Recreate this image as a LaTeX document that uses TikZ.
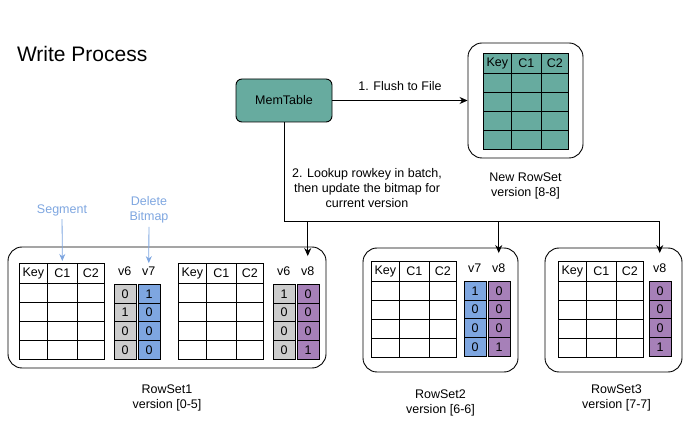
\documentclass[tikz,border=0pt]{standalone}
\usepackage{fontspec}
\setmainfont{Liberation Sans}
\usetikzlibrary{arrows.meta,positioning}

\definecolor{memgreen}{HTML}{67AB9F}
\definecolor{bitblue}{HTML}{7EA6E0}
\definecolor{bitpurple}{HTML}{A680B8}
\definecolor{bitgray}{HTML}{CCCCCC}
\definecolor{notecolor}{HTML}{7EA6E0}

\tikzset{
  cell/.style={draw, inner sep=0pt, line width=0.8pt},
  rowset/.style={draw, rounded corners=14pt, line width=0.9pt},
  setcap/.style={align=center},
  flow/.style={-{Stealth[length=8pt,width=7pt]}, line width=0.9pt},
  hint/.style={-{Stealth[length=7pt,width=6pt]}, draw=notecolor, line width=0.8pt},
}

% table with Key, C1, C2 and four rows: name, x, y, fill
\newcommand{\kvtable}[4]{%
  \foreach \colx/\colw/\coltxt [count=\i] in {0/28/Key, 28/30/C1, 58/27/C2} {
    \node[cell, fill=#4, minimum width=\colw, minimum height=20, anchor=north west] (#1h\i) at (#2+\colx,#3) {\coltxt};
    \foreach \r in {0,...,3}
      \node[cell, fill=#4, minimum width=\colw, minimum height=19, anchor=north west] at (#2+\colx,#3+20+19*\r) {};
  }}

% bitmap column: name, x, y, fill, label, bits
\newcommand{\bitcol}[6]{%
  \node (#1) at (#2+10.75,#3-13) {#5};
  \foreach \b [count=\r from 0] in {#6}
    \node[cell, fill=#4, minimum width=21.5, minimum height=18.75, anchor=north west] at (#2,#3+18.75*\r) {\b};
}

\begin{document}
\begin{tikzpicture}[x=1pt, y=-1pt, font=\fontsize{12.5}{15}\selectfont]
  \useasboundingbox (0,0) rectangle (694,430);
  \node[anchor=west, font=\fontsize{21}{25}\selectfont] (title) at (13.5,54) {Write Process};

  % memtable and new rowset
  \node[draw, fill=memgreen, rounded corners=6pt, minimum width=96, minimum height=43, line width=0.9pt] (memtable) at (284,100.5) {MemTable};
  \node[rowset, minimum width=115, minimum height=115] (newset) at (525.5,100.5) {};
  \kvtable{t0}{483}{53}{memgreen}
  \node[setcap, below=11pt of newset] (newcap) {New RowSet\\version [8-8]};

  % rowset1
  \node[rowset, minimum width=318, minimum height=121] (set1) at (167,307.5) {};
  \kvtable{t1a}{19}{263}{white}
  \bitcol{v6a}{114}{284}{bitgray}{v6}{0,1,0,0}
  \bitcol{v7a}{138}{284}{bitblue}{v7}{1,0,0,0}
  \kvtable{t1b}{178}{263}{white}
  \bitcol{v6b}{273}{284}{bitgray}{v6}{1,0,0,0}
  \bitcol{v8a}{297}{284}{bitpurple}{v8}{0,0,0,1}
  \node[setcap, below=13pt of set1] (cap1) {RowSet1\\version [0-5]};

  % rowset2
  \node[rowset, minimum width=155, minimum height=124] (set2) at (440.5,310) {};
  \kvtable{t2}{371}{261}{white}
  \bitcol{v7b}{464}{281}{bitblue}{v7}{1,0,0,0}
  \bitcol{v8b}{488}{281}{bitpurple}{v8}{0,0,0,1}
  \node[setcap, below=14pt of set2] (cap2) {RowSet2\\version [6-6]};

  % rowset3
  \node[rowset, minimum width=137, minimum height=124] (set3) at (613.5,310) {};
  \kvtable{t3}{558}{261}{white}
  \bitcol{v8c}{649}{281}{bitpurple}{v8}{0,0,0,1}
  \node[setcap, below=9pt of set3, xshift=3pt] (cap3) {RowSet3\\version [7-7]};

  % flush and lookup
  \draw[flow] (memtable) -- node[above=6pt] {1. Flush to File} (newset);
  \coordinate (bus) at (284,221);
  \draw[line width=0.9pt] (memtable) -- (bus);
  \draw[flow, shorten >=7pt] (bus) -| (v8a);
  \draw[flow, shorten >=7pt] (bus) -| (v8b);
  \draw[flow, shorten >=7pt] (bus) -| (v8c);
  \node[align=center] (lookup) at (367,188) {2. Lookup rowkey in batch,\\then update the bitmap for\\current version};

  % notes
  \node[text=notecolor] (seglabel) at (62,210) {Segment};
  \draw[hint, shorten >=2pt] (seglabel) -- (t1ah2);
  \node[text=notecolor, align=center] (dellabel) at (149,210) {Delete\\Bitmap};
  \draw[hint] (dellabel) -- (v7a);
\end{tikzpicture}
\end{document}
